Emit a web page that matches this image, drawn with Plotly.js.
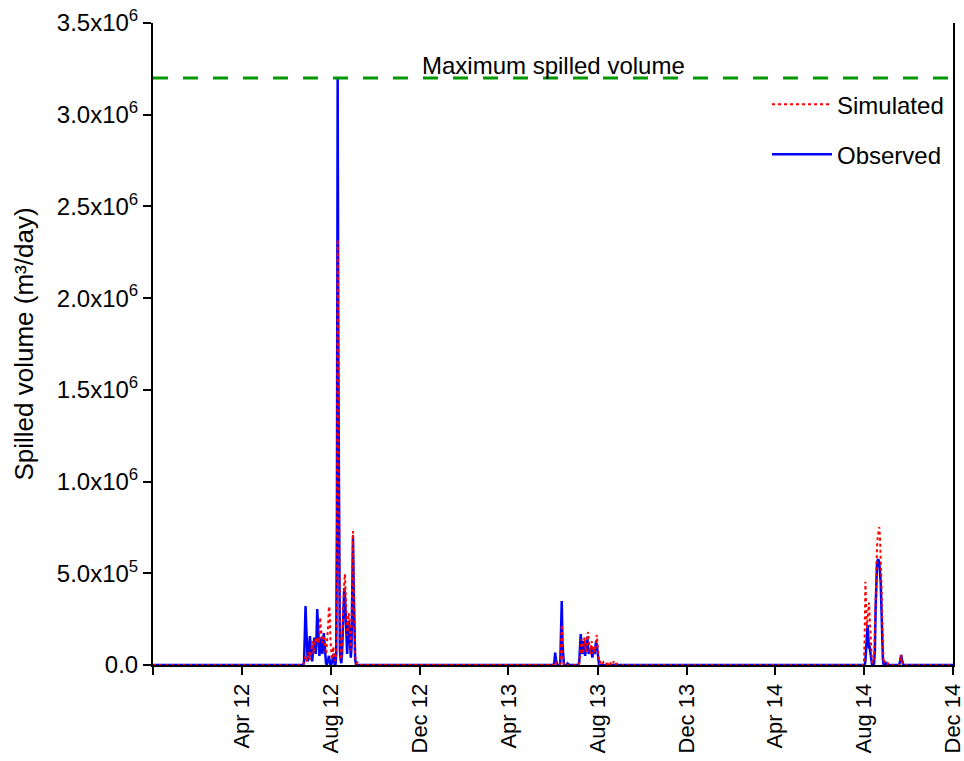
<!DOCTYPE html>
<html>
<head>
<meta charset="utf-8">
<script src="https://cdn.plot.ly/plotly-3.0.1.min.js"></script>
<style>html,body{margin:0;padding:0;background:#fff;}#chart{width:964px;height:761px;}</style>
</head>
<body>
<div id="chart"></div>
<script>
// Range of the record
const rangeStart = '2011-12-01';
const rangeEnd = '2014-12-01';
// values are in 10^3 m3/day
const unit = 1000;

// Event 1: daily values from 2012-06-23
const event1Start = '2012-06-23';
const event1Observed = [0,0,20,150,321,200,60,20,40,100,158,90,30,20,60,120,150,100,60,150,305,220,100,50,110,150,100,60,120,174,120,40,10,0,10,30,50,20,0,0,10,30,60,20,0,0,50,800,3200,1600,300,80,30,10,60,207,350,420,380,250,120,60,150,240,200,100,40,100,500,700,400,120,30,5,0,0,0,0,0];
const event1Simulated = [0,5,20,40,50,30,20,40,70,60,30,50,110,130,100,60,120,140,130,120,150,140,120,150,260,200,130,120,140,150,130,100,60,100,150,220,320,300,150,60,30,40,100,60,30,20,80,700,2320,1400,500,150,60,30,100,250,380,450,496,420,280,160,200,283,250,150,80,200,500,730,450,150,50,20,10,15,10,5,0];

// Event 2: daily values from 2013-06-01
const event2Start = '2013-06-01';
const event2Observed = [0,0,20,67,30,0,0,0,0,0,10,150,349,120,10,0,0,0,0,0,8,0,0,0,0,0,0,0,0,0,0,0,0,0,0,0,20,100,169,120,60,90,130,100,50,80,130,154,100,60,90,70,93,60,40,80,90,60,100,127,110,60,20,5,0,0,0,0,0,0,0,0,0,0,0,0,0,0,0,0,0,0,0,0,0,0,0,0,0];
const event2Simulated = [0,0,5,20,10,0,0,0,0,0,10,100,220,80,10,0,0,0,0,0,0,0,0,0,0,0,0,0,0,0,0,0,0,0,0,0,10,60,120,140,100,60,110,150,120,70,120,170,180,140,80,60,100,130,90,60,100,70,90,130,164,120,60,20,10,15,5,0,10,15,5,0,0,0,20,5,0,0,15,5,0,0,0,20,5,0,0,20,0];

// Event 3: daily values from 2014-07-30
const event3Start = '2014-07-30';
const event3Observed = [0,0,0,0,20,80,150,218,150,90,93,60,20,5,0,0,10,80,300,500,560,572,572,560,520,450,310,120,30,0,0,5,10,0,0,0,0,0,0,0,0,0,0,0,0,0,0,0,0,0,0,10,40,55,30,5,0];
const event3Simulated = [0,0,10,150,454,300,200,250,300,340,250,150,60,20,10,20,50,200,400,600,650,700,730,752,700,600,450,250,80,10,20,15,10,5,0,10,5,0,0,0,0,0,0,0,0,0,0,0,0,0,0,10,45,55,35,10,0];

const maxSpilled = 3.2e6;
const yTickVals = [0, 5e5, 1e6, 1.5e6, 2e6, 2.5e6, 3e6, 3.5e6];
const yTickText = ['0.0', '5.0x10<sup>5</sup>', '1.0x10<sup>6</sup>', '1.5x10<sup>6</sup>', '2.0x10<sup>6</sup>', '2.5x10<sup>6</sup>', '3.0x10<sup>6</sup>', '3.5x10<sup>6</sup>'];
const xTickVals = ['2011-12-01','2012-04-01','2012-08-01','2012-12-01','2013-04-01','2013-08-01','2013-12-01','2014-04-01','2014-08-01','2014-12-01'];
const xTickText = ['', 'Apr 12', 'Aug 12', 'Dec 12', 'Apr 13', 'Aug 13', 'Dec 13', 'Apr 14', 'Aug 14', 'Dec 14'];

function addDays(s, n) {
  const d = new Date(s + 'T00:00:00Z');
  d.setUTCDate(d.getUTCDate() + n);
  return d.toISOString().slice(0, 10);
}
function buildSeries(events) {
  const x = [rangeStart], y = [0];
  events.forEach(ev => {
    ev.values.forEach((v, i) => { x.push(addDays(ev.start, i)); y.push(v * unit); });
  });
  x.push(rangeEnd); y.push(0);
  return {x, y};
}
const obs = buildSeries([
  {start: event1Start, values: event1Observed},
  {start: event2Start, values: event2Observed},
  {start: event3Start, values: event3Observed}
]);
const sim = buildSeries([
  {start: event1Start, values: event1Simulated},
  {start: event2Start, values: event2Simulated},
  {start: event3Start, values: event3Simulated}
]);

const font = 'Arial, "Liberation Sans", sans-serif';
const data = [
  {x: obs.x, y: obs.y, type: 'scatter', mode: 'lines', name: 'Observed', legendgroup: 'o', legendrank: 2,
   line: {color: '#0000ff', width: 2.5}},
  {x: sim.x, y: sim.y, type: 'scatter', mode: 'lines', name: 'Simulated', legendgroup: 's', legendrank: 1,
   line: {color: '#ff0000', width: 2, dash: 'dot'}}
];
const layout = {
  width: 964, height: 761,
  margin: {l: 153, r: 11, t: 23, b: 96},
  paper_bgcolor: '#fff', plot_bgcolor: '#fff',
  font: {family: font, color: '#000', size: 24},
  showlegend: true,
  legend: {x: 0.995, xanchor: 'right', y: 0.908, yanchor: 'top', traceorder: 'grouped',
           tracegroupgap: 16, font: {size: 24, family: font}, bgcolor: 'rgba(0,0,0,0)', itemwidth: 60},
  xaxis: {
    type: 'date', range: [rangeStart, '2014-12-01 01:00'],
    tickmode: 'array', tickvals: xTickVals, ticktext: xTickText,
    tickangle: -90, tickfont: {size: 22, family: font}, ticklabeloverflow: 'allow',
    ticks: 'outside', ticklen: 8, tickwidth: 2, tickcolor: '#000',
    showline: true, linecolor: '#000', linewidth: 2, showgrid: false, zeroline: false
  },
  yaxis: {
    range: [0, 3.5e6],
    tickmode: 'array', tickvals: yTickVals, ticktext: yTickText,
    tickfont: {size: 24, family: font},
    ticks: 'outside', ticklen: 8, tickwidth: 2, tickcolor: '#000',
    showline: true, linecolor: '#000', linewidth: 2, mirror: true, showgrid: false, zeroline: false,
    title: {text: 'Spilled volume (m³/day)', font: {size: 26, family: font}, standoff: 16}
  },
  shapes: [{type: 'line', xref: 'paper', x0: 0, x1: 1, yref: 'y', y0: maxSpilled, y1: maxSpilled,
            line: {color: '#009900', width: 3, dash: '15px,15px'}}],
  annotations: [{xref: 'paper', x: 0.5, yref: 'y', y: maxSpilled, yanchor: 'middle', yshift: 13,
                 text: 'Maximum spilled volume', showarrow: false, font: {size: 24, family: font}}]
};
Plotly.newPlot('chart', data, layout, {displayModeBar: false, staticPlot: true});
</script>
</body>
</html>
